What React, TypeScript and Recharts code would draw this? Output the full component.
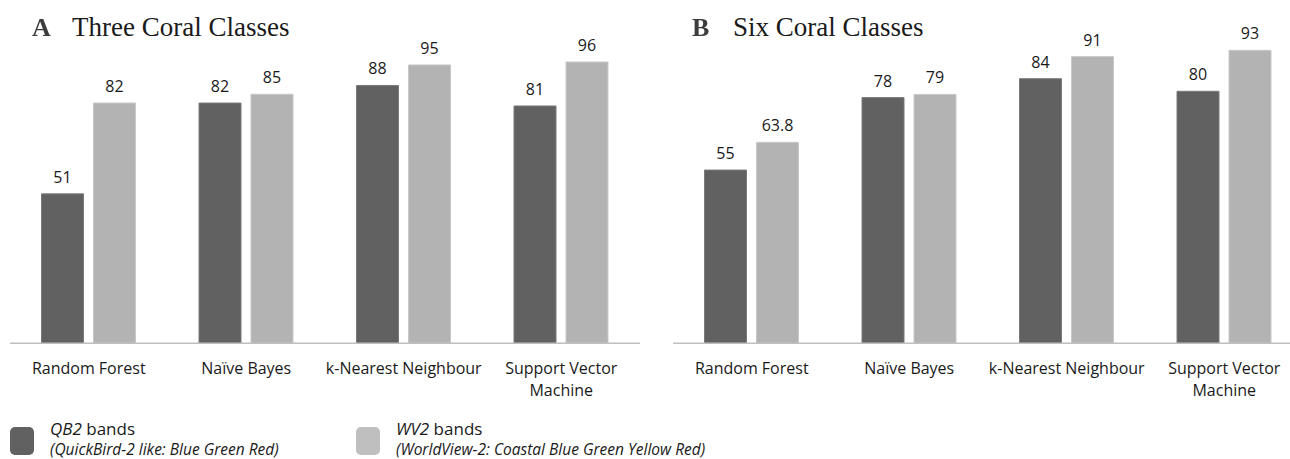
import React from "react";
import { BarChart, Bar, XAxis, YAxis, LabelList } from "recharts";

const categories = ["Random Forest", "Naïve Bayes", "k-Nearest Neighbour", "Support Vector Machine"];
const threeQB2 = [51, 82, 88, 81];
const threeWV2 = [82, 85, 95, 96];
const sixQB2 = [55, 78, 84, 80];
const sixWV2 = [63.8, 79, 91, 93];

const DARK = "#616161";
const LIGHT = "#b3b3b3";
const FONT = "'Open Sans', 'Noto Sans', sans-serif";
const SERIF = "'Liberation Serif', 'DejaVu Serif', serif";

const threeData = categories.map((c, i) => ({ name: c, qb2: threeQB2[i], wv2: threeWV2[i] }));
const sixData = categories.map((c, i) => ({ name: c, qb2: sixQB2[i], wv2: sixWV2[i] }));

function wrap(label: string, maxChars: number): string[] {
  const words = label.split(" ");
  const lines: string[] = [];
  let cur = "";
  for (const w of words) {
    const next = cur ? cur + " " + w : w;
    if (next.length > maxChars && cur) {
      lines.push(cur);
      cur = w;
    } else {
      cur = next;
    }
  }
  if (cur) lines.push(cur);
  return lines;
}

const Tick = (props: any) => {
  const { x, y, payload } = props;
  const lines = wrap(String(payload.value), 19);
  return (
    <text x={x} y={y} textAnchor="middle" fill="#1a1a1a" fontSize={16} fontFamily={FONT}>
      {lines.map((l, i) => (
        <tspan key={i} x={x} dy={i === 0 ? 23 : 22}>
          {l}
        </tspan>
      ))}
    </text>
  );
};

function Panel({ data, top, left }: { data: any[]; top: number; left: number }) {
  return (
    <div style={{ position: "absolute", left, top: 0 }}>
      <BarChart
        width={650}
        height={459}
        data={data}
        margin={{ top, right: 10, bottom: 85.7, left: 10 }}
        barCategoryGap="20%"
        barGap={10}
      >
        <YAxis hide domain={[0, 100]} />
        <XAxis
          dataKey="name"
          height={30}
          axisLine={{ stroke: "#bfbfbf", strokeWidth: 1.5 }}
          tickLine={false}
          tick={<Tick />}
          interval={0}
        />
        <Bar dataKey="qb2" fill={DARK} stroke="#7a7a7a" strokeWidth={1} isAnimationActive={false}>
          <LabelList dataKey="qb2" position="top" offset={11} fill="#1a1a1a" fontSize={16} fontFamily={FONT} />
        </Bar>
        <Bar dataKey="wv2" fill={LIGHT} stroke="#c8c8c8" strokeWidth={1} isAnimationActive={false}>
          <LabelList dataKey="wv2" position="top" offset={11} fill="#1a1a1a" fontSize={16} fontFamily={FONT} />
        </Bar>
      </BarChart>
    </div>
  );
}

export default function App() {
  return (
    <div
      style={{
        position: "absolute",
        left: 0,
        top: 0,
        width: 1290,
        height: 459,
        overflow: "hidden",
        background: "#fff",
      }}
    >
      <Panel data={threeData} top={50.3} left={0} />
      <Panel data={sixData} top={28.3} left={663.3} />
      <svg
        width={1290}
        height={459}
        style={{ position: "absolute", left: 0, top: 0, pointerEvents: "none" }}
      >
        <defs>
          <filter id="soft" x="-20%" y="-20%" width="140%" height="140%">
            <feGaussianBlur stdDeviation="0.6" />
          </filter>
        </defs>
        <text x={32} y={36} fontFamily={SERIF} fontWeight="bold" fontSize={26} fill="#3c3c3c" filter="url(#soft)">
          A
        </text>
        <text x={72} y={36} fontFamily={SERIF} fontSize={27} fill="#1a1a1a">
          Three Coral Classes
        </text>
        <text x={692} y={36} fontFamily={SERIF} fontWeight="bold" fontSize={26} fill="#3c3c3c" filter="url(#soft)">
          B
        </text>
        <text x={733} y={36} fontFamily={SERIF} fontSize={27} fill="#1a1a1a">
          Six Coral Classes
        </text>

        <rect x={10} y={427} width={24} height={28} rx={5} fill={DARK} />
        <text x={50} y={435} fontFamily={FONT} fontSize={17} fill="#1a1a1a">
          <tspan fontStyle="italic">QB2</tspan>
          <tspan> bands</tspan>
        </text>
        <text x={50} y={455} fontFamily={FONT} fontSize={15.5} fontStyle="italic" fill="#1a1a1a">
          (QuickBird-2 like: Blue Green Red)
        </text>

        <rect x={356} y={427} width={24} height={28} rx={5} fill="#bfbfbf" />
        <text x={396} y={435} fontFamily={FONT} fontSize={17} fill="#1a1a1a">
          <tspan fontStyle="italic">WV2</tspan>
          <tspan> bands</tspan>
        </text>
        <text x={396} y={455} fontFamily={FONT} fontSize={15.5} fontStyle="italic" fill="#1a1a1a">
          (WorldView-2: Coastal Blue Green Yellow Red)
        </text>
      </svg>
    </div>
  );
}
